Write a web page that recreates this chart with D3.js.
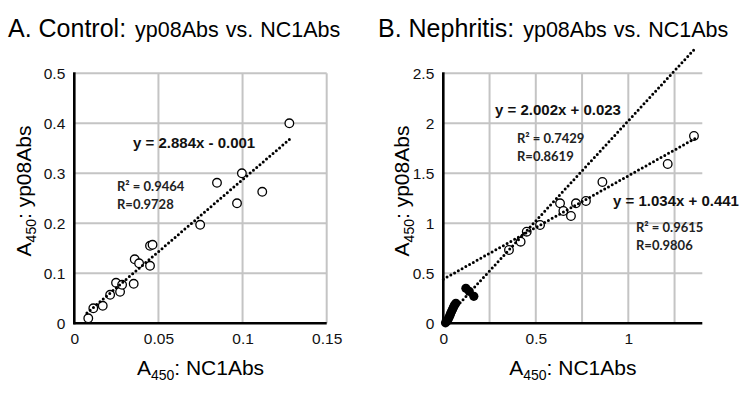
<!DOCTYPE html>
<html>
<head>
<meta charset="utf-8">
<script src="https://cdn.jsdelivr.net/npm/d3@7"></script>
<style>
  body { margin: 0; background: #fff; }
  svg { display: block; font-family: "Liberation Sans", Arial, sans-serif; }
</style>
</head>
<body>
<div id="chart"></div>
<script>
// Data

// A. Control
const controlNC1  = [0.0083, 0.0113, 0.0169, 0.0213, 0.0248, 0.0272, 0.0284, 0.0353, 0.0359, 0.0385, 0.045, 0.045, 0.0465, 0.0748, 0.0848, 0.0967, 0.0996, 0.1117, 0.1278];
const controlYp08 = [0.010, 0.030, 0.035, 0.057, 0.081, 0.063, 0.077, 0.079, 0.128, 0.120, 0.115, 0.155, 0.157, 0.197, 0.281, 0.240, 0.300, 0.263, 0.400];
const controlXTicks = [0, 0.05, 0.1, 0.15];
const controlYTicks = [0, 0.1, 0.2, 0.3, 0.4, 0.5];
const controlXGrid = [0.05, 0.1, 0.15];

// B. Nephritis - open circles
const nephOpenNC1  = [0.355, 0.418, 0.451, 0.523, 0.631, 0.649, 0.690, 0.717, 0.771, 0.860, 1.213, 1.355];
const nephOpenYp08 = [0.733, 0.816, 0.916, 0.983, 1.200, 1.123, 1.073, 1.200, 1.223, 1.413, 1.593, 1.873];
// B. Nephritis - filled circles
const nephFilledNC1  = [0.012, 0.020, 0.026, 0.031, 0.036, 0.040, 0.045, 0.050, 0.055, 0.060, 0.068, 0.122, 0.140, 0.165];
const nephFilledYp08 = [0.005, 0.020, 0.040, 0.060, 0.080, 0.100, 0.120, 0.140, 0.160, 0.180, 0.200, 0.350, 0.320, 0.270];
const nephXTicks = [0, 0.5, 1];
const nephYTicks = [0, 0.5, 1, 1.5, 2, 2.5];
const nephXGrid = [0.25, 0.5, 0.75, 1, 1.25];

// Trend lines: [slope, intercept, xStart, xEnd]
const controlFit = [2.884, -0.001, 0.0075, 0.128];
const nephFitSteep = [2.002, 0.023, 0.012, 1.366];
const nephFitFlat = [1.034, 0.441, 0.0, 1.36];

const width = 750;
const height = 394;
const narrow = '"Liberation Sans Narrow", "Arial Narrow", "Liberation Sans", Arial, sans-serif';
const labelFont = 'Lato, "Open Sans", sans-serif';

const svg = d3.select('#chart')
  .append('svg')
    .attr('width', width)
    .attr('height', height)
    .attr('viewBox', `0 0 ${width} ${height}`);

const drawPanel = (p) => {
  const x = d3.scaleLinear().domain(p.xDomain).range(p.xRange);
  const y = d3.scaleLinear().domain(p.yDomain).range([323.3, 73.3]);
  const g = svg.append('g');

  // gridlines
  const grid = g.append('g')
    .attr('stroke', '#c4c4c4')
    .attr('stroke-width', 2);
  grid.selectAll('.hgrid')
    .data(p.yTicks.filter(d => d > 0))
    .join('line')
      .attr('x1', x(0)).attr('x2', p.xRange[1])
      .attr('y1', d => y(d)).attr('y2', d => y(d));
  grid.selectAll('.vgrid')
    .data(p.xGrid)
    .join('line')
      .attr('x1', d => x(d)).attr('x2', d => x(d))
      .attr('y1', y(0)).attr('y2', y(p.yDomain[1]));

  // tick labels through d3 axes
  const yAxis = g.append('g')
    .attr('transform', `translate(${x(0)},0)`)
    .call(d3.axisLeft(y).tickValues(p.yTicks).tickSize(0).tickPadding(9).tickFormat(d => String(d)));
  const xAxis = g.append('g')
    .attr('transform', `translate(0,${y(0)})`)
    .call(d3.axisBottom(x).tickValues(p.xTicks).tickSize(0).tickPadding(10).tickFormat(d => String(d)));
  [yAxis, xAxis].forEach(a => {
    a.select('.domain').remove();
    a.selectAll('text')
      .attr('font-family', narrow)
      .attr('font-size', 15.5)
      .attr('fill', '#111');
  });

  // axis lines
  g.append('line')
    .attr('x1', x(0)).attr('x2', x(0))
    .attr('y1', y(0) + 1).attr('y2', y(p.yDomain[1]) - 1)
    .attr('stroke', '#000').attr('stroke-width', 2.6);
  g.append('line')
    .attr('x1', x(0) - 1).attr('x2', p.xRange[1])
    .attr('y1', y(0)).attr('y2', y(0))
    .attr('stroke', '#000').attr('stroke-width', 2.6);

  // points
  g.append('g')
    .selectAll('circle')
    .data(p.openX.map((d, i) => [d, p.openY[i]]))
    .join('circle')
      .attr('cx', d => x(d[0]))
      .attr('cy', d => y(d[1]))
      .attr('r', 4.3)
      .attr('fill', '#fff')
      .attr('stroke', '#000')
      .attr('stroke-width', 1.3);
  if (p.filledX) {
    g.append('g')
      .selectAll('circle')
      .data(p.filledX.map((d, i) => [d, p.filledY[i]]))
      .join('circle')
        .attr('cx', d => x(d[0]))
        .attr('cy', d => y(d[1]))
        .attr('r', 4.6)
        .attr('fill', '#000');
  }

  // dotted trend lines
  const line = d3.line().x(d => x(d[0])).y(d => y(d[1]));
  p.fits.forEach(f => {
    g.append('path')
      .datum([[f[2], f[0] * f[2] + f[1]], [f[3], f[0] * f[3] + f[1]]])
      .attr('d', line)
      .attr('fill', 'none')
      .attr('stroke', '#000')
      .attr('stroke-width', 3)
      .attr('stroke-linecap', 'round')
      .attr('stroke-dasharray', '0 4.3');
  });

  // panel title
  const title = g.append('text')
    .attr('x', p.titleX)
    .attr('y', 37)
    .attr('fill', '#000');
  title.append('tspan').attr('font-size', 25).text(p.title);
  title.append('tspan').attr('font-size', 21.5).attr('dx', 9).attr('word-spacing', 1).text('yp08Abs vs. NC1Abs');

  // x axis title
  const xt = g.append('text')
    .attr('x', (x(0) + p.xRange[1]) / 2)
    .attr('y', 375)
    .attr('text-anchor', 'middle')
    .attr('font-size', 21)
    .attr('fill', '#000');
  xt.append('tspan').text('A');
  xt.append('tspan').attr('font-size', 14).attr('dy', 5).text('450');
  xt.append('tspan').attr('dy', -5).text(': NC1Abs');

  // y axis title
  const yt = g.append('text')
    .attr('transform', `translate(${p.yTitleX},191) rotate(-90)`)
    .attr('text-anchor', 'middle')
    .attr('font-size', 21)
    .attr('fill', '#000');
  yt.append('tspan').text('A');
  yt.append('tspan').attr('font-size', 14).attr('dy', 5).text('450');
  yt.append('tspan').attr('dy', -5).text(': yp08Abs');

  // equation labels
  p.labels.forEach(l => {
    g.append('text')
      .attr('x', l.x).attr('y', l.y)
      .attr('font-size', 15)
      .attr('font-weight', 'bold')
      .attr('fill', '#111')
      .text(l.eq);
    [l.r2, l.r].forEach((t, i) => {
      g.append('text')
        .attr('x', l.rx).attr('y', l.ry + i * 17.5)
        .attr('font-family', labelFont)
        .attr('font-size', 13)
        .attr('font-weight', 'bold')
        .attr('fill', '#222')
        .text(t);
    });
  });
};

drawPanel({
  xDomain: [0, 0.15], xRange: [74.3, 326.7], yDomain: [0, 0.5],
  xTicks: controlXTicks, yTicks: controlYTicks, xGrid: controlXGrid,
  openX: controlNC1, openY: controlYp08,
  fits: [controlFit],
  title: 'A. Control:', titleX: 8, yTitleX: 31,
  labels: [{ eq: 'y = 2.884x - 0.001', x: 133, y: 148, r2: 'R² = 0.9464', r: 'R=0.9728', rx: 117, ry: 191 }]
});

drawPanel({
  xDomain: [0, 1.4], xRange: [443.3, 702.3], yDomain: [0, 2.5],
  xTicks: nephXTicks, yTicks: nephYTicks, xGrid: nephXGrid,
  openX: nephOpenNC1, openY: nephOpenYp08,
  filledX: nephFilledNC1, filledY: nephFilledYp08,
  fits: [nephFitSteep, nephFitFlat],
  title: 'B. Nephritis:', titleX: 378, yTitleX: 409,
  labels: [
    { eq: 'y = 2.002x + 0.023', x: 495, y: 115, r2: 'R² = 0.7429', r: 'R=0.8619', rx: 517, ry: 143 },
    { eq: 'y = 1.034x + 0.441', x: 613, y: 206, r2: 'R² = 0.9615', r: 'R=0.9806', rx: 636, ry: 232 }
  ]
});
</script>
</body>
</html>
